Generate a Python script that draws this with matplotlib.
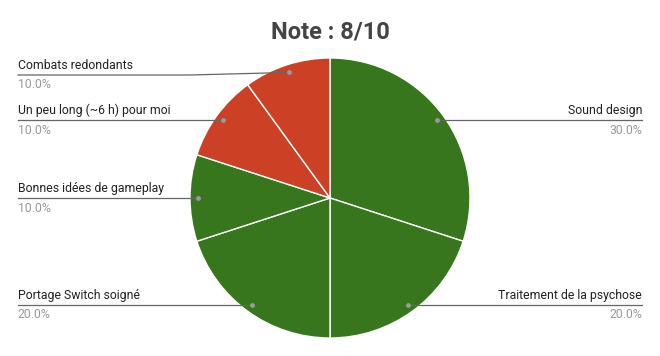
import numpy as np
import matplotlib
matplotlib.use("Agg")
import matplotlib.pyplot as plt

plt.rcParams['font.family'] = ['Roboto', 'DejaVu Sans']

title = "Note : 8/10"
labels = ["Sound design", "Traitement de la psychose", "Portage Switch soigné",
          "Bonnes idées de gameplay", "Un peu long (~6 h) pour moi", "Combats redondants"]
values = [30, 20, 20, 10, 10, 10]
colors = ["#38761d", "#38761d", "#38761d", "#38761d", "#cc4125", "#cc4125"]

W, H = 660, 356
fig = plt.figure(figsize=(W / 100, H / 100), dpi=100)
ax = fig.add_axes([0, 0, 1, 1])

cx, cy, R = 330, H - 198, 140
wedges, _ = ax.pie(values, colors=colors, startangle=90, counterclock=False,
                   center=(cx, cy), radius=R, frame=True,
                   wedgeprops=dict(edgecolor='white', linewidth=1))
ax.set_xlim(0, W)
ax.set_ylim(0, H)
ax.set_aspect('auto')
ax.axis('off')

# label layout (pixel y of leader line, side)
label_line_y = [120, 305, 305, 198, 120, 75]
sides = ['right', 'right', 'left', 'left', 'left', 'left']

fs = 8.8
total = sum(values)
cum = 0
for v, lab, ly, side in zip(values, labels, label_line_y, sides):
    mid = (cum + v / 2) / total
    cum += v
    ang = np.deg2rad(90 - 360 * mid)
    dx, dy = cx + 0.943 * R * np.cos(ang), cy + 0.943 * R * np.sin(ang)
    yl = H - ly
    pct = f"{100 * v / total:.1f}%"
    if side == 'left':
        xs = 18
        if abs(dy - yl) > 1.5:
            xb = 190
            ax.plot([xs, xb, dx], [yl, yl, dy], color='#666666', lw=0.9, zorder=5)
        else:
            ax.plot([xs, dx], [yl, yl], color='#666666', lw=0.9, zorder=5)
        ax.text(xs, yl + 3, lab, ha='left', va='bottom', fontsize=fs, color='#222222')
        ax.text(xs, yl - 3.5, pct, ha='left', va='top', fontsize=fs, color='#999999')
    else:
        xs = 642
        ax.plot([dx, xs], [yl, yl], color='#666666', lw=0.9, zorder=5)
        ax.text(xs, yl + 3, lab, ha='right', va='bottom', fontsize=fs, color='#222222')
        ax.text(xs, yl - 3.5, pct, ha='right', va='top', fontsize=fs, color='#999999')
    ax.plot([dx], [dy], 'o', ms=3.5, color='#999999', mec='none', zorder=6)

ax.text(cx, H - 32, title, ha='center', va='center', fontsize=17, fontweight='bold',
        color='#444444')

fig.savefig("out.png", dpi=100, facecolor='white')
